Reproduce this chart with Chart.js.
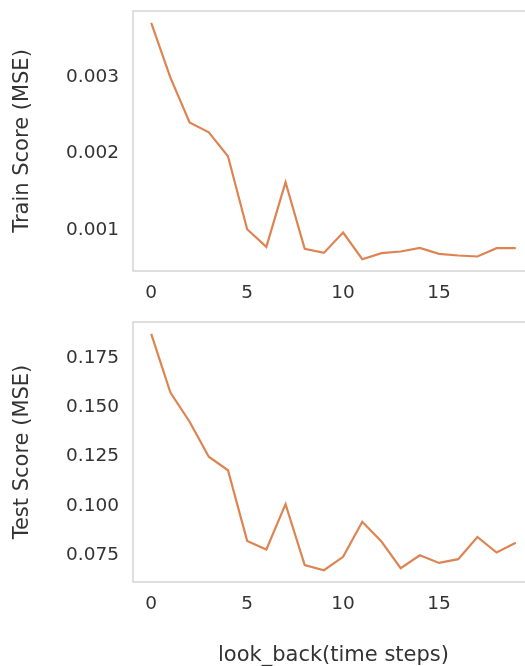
<!DOCTYPE html>
<html>
<head>
<meta charset="utf-8">
<script src="https://cdn.jsdelivr.net/npm/chart.js@4.4.1/dist/chart.umd.min.js"></script>
<style>
html, body { margin:0; padding:0; overflow:hidden; background:#fff; width:525px; height:666px; }
canvas { position:absolute; left:0; }
#c1 { top:0; }
#c2 { top:300px; }
</style>
</head>
<body>
<canvas id="c1" width="534" height="300"></canvas>
<canvas id="c2" width="534" height="366"></canvas>
<script>
const lookBack = [0,1,2,3,4,5,6,7,8,9,10,11,12,13,14,15,16,17,18,19];
const trainScore = [0.003705,0.00299,0.002407,0.002277,0.001965,0.001013,0.000783,0.001627,0.000757,0.000705,0.00097,0.000623,0.000701,0.000723,0.00077,0.000692,0.000671,0.000658,0.000766,0.000766];
const testScore = [0.1874,0.1575,0.1427,0.1249,0.118,0.0821,0.0777,0.1008,0.0698,0.0672,0.074,0.0918,0.0818,0.0682,0.0748,0.0709,0.0728,0.0841,0.0762,0.0812];
const xTicks = [0,5,10,15];
const trainTicks = [0.001,0.002,0.003];
const trainTickLabels = ['0.001','0.002','0.003'];
const testTicks = [0.075,0.100,0.125,0.150,0.175];
const testTickLabels = ['0.075','0.100','0.125','0.150','0.175'];

const FONT = "'DejaVu Sans', sans-serif";
const TXT = '#333333';
const LINE = '#dd8452';

const frame = {
  id:'frame',
  beforeDatasetsDraw(chart){
    const a = chart.chartArea, ctx = chart.ctx;
    ctx.save();
    ctx.strokeStyle = '#cccccc';
    ctx.lineWidth = 1.25;
    ctx.strokeRect(a.left, a.top, a.right - a.left, a.bottom - a.top);
    ctx.restore();
  }
};

function makeChart(id, ys, yTicks, yLabels, yTitle, yMin, yMax, padTop, xHeight, showXTitle){
  const data = lookBack.map((x,i)=>({x:x, y:ys[i]}));
  return new Chart(document.getElementById(id), {
    type:'line',
    data:{ datasets:[{ data:data, borderColor:LINE, borderWidth:2.2, pointRadius:0, fill:false, tension:0 }]},
    options:{
      responsive:false, animation:false,
      layout:{ padding:{ top:padTop, left:0, right:0, bottom:0 } },
      plugins:{ legend:{display:false}, tooltip:{enabled:false} },
      scales:{
        x:{
          type:'linear', min:-0.95, max:19.95,
          grid:{ display:false, drawTicks:false },
          border:{ display:false },
          afterBuildTicks(s){ s.ticks = xTicks.map(v=>({value:v})); },
          afterFit(s){ s.height = xHeight; s.paddingLeft = 0; s.paddingRight = 0; },
          ticks:{ color:TXT, font:{family:FONT, size:18.5}, padding:11, maxRotation:0, autoSkip:false,
                  callback:(v)=>String(v) },
          title:{ display:showXTitle, text:'look_back(time steps)', color:TXT,
                  font:{family:FONT, size:21, lineHeight:1.0}, padding:{top:0, bottom:0} }
        },
        y:{
          type:'linear', min:yMin, max:yMax,
          grid:{ display:false, drawTicks:false },
          border:{ display:false },
          afterBuildTicks(s){ s.ticks = yTicks.map(v=>({value:v})); },
          afterFit(s){ s.width = 133; s.paddingTop = 0; s.paddingBottom = 0; },
          ticks:{ color:TXT, font:{family:FONT, size:18.5}, padding:14, autoSkip:false,
                  callback:(v)=>{ const i = yTicks.findIndex(t=>Math.abs(t-v)<1e-9); return i>=0 ? yLabels[i] : ''; } },
          title:{ display:true, text:yTitle, color:TXT, font:{family:FONT, size:21, lineHeight:1.2}, padding:{top:10, bottom:0} }
        }
      }
    },
    plugins:[frame]
  });
}

makeChart('c1', trainScore, trainTicks, trainTickLabels, 'Train Score (MSE)', 0.000469, 0.003859, 11, 29, false);
makeChart('c2', testScore, testTicks, testTickLabels, 'Test Score (MSE)', 0.0612, 0.1934, 22, 84, true);
</script>
</body>
</html>
